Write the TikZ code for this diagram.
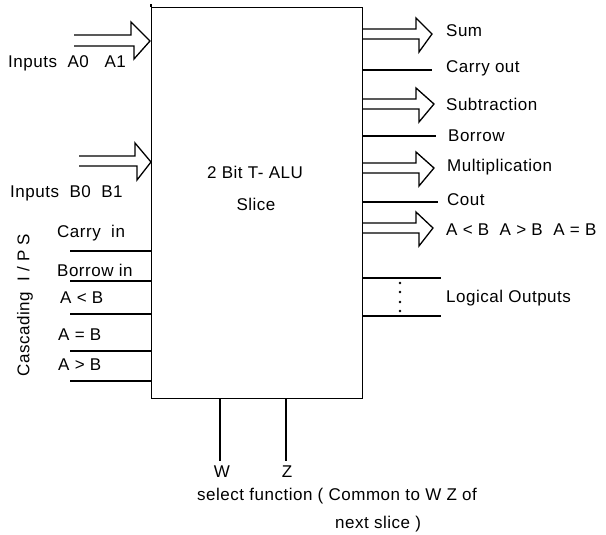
\documentclass[tikz,border=0pt]{standalone}
\usepackage{fontspec}
\setmainfont[LetterSpace=3]{Liberation Sans}
\begin{document}
\begin{tikzpicture}[x=1pt,y=-1pt,
  line/.style={line width=1.3pt},
  lbl/.style={font=\fontsize{17}{19}\selectfont, inner sep=0pt, anchor=west},
  ctr/.style={font=\fontsize{17}{19}\selectfont, inner sep=0pt}]
\useasboundingbox (0,0) rectangle (606,535);
% main block
\node[draw, line width=1.3pt, minimum width=211pt, minimum height=391pt, anchor=north west, inner sep=0pt] (alu) at (151,7) {};
\draw[line] (alu.north west) -- ++(0,-3);
\node[ctr] (t1) at (255,172) {2 Bit T- ALU};
\node[ctr] (t2) at (256,204) {Slice};
% hollow arrow macro
\newcommand{\rarrow}[2]{\draw[line] (362,#1-5) -- (416,#1-5) -- (416,#1-16) -- (#2,#1) -- (419,#1+18) -- (419,#1+5) -- (362,#1+5);}
% left inputs
\draw[line] (74,35) -- (131,35) -- (131,22) -- (150,41) -- (134,59) -- (134,46) -- (74,46);
\node[lbl] (ia) at (8,63) {Inputs\ \ A0\ \ \ A1};
\draw[line] (79,156) -- (135,156) -- (135,143) -- (151,162) -- (137,180) -- (137,166) -- (79,166);
\node[lbl] (ib) at (10,193) {Inputs\ \ B0\ \ B1};
% cascading inputs
\foreach \yy/\nm in {251/c1,281/c2,314/c3,351/c4,381/c5}{
  \coordinate (\nm) at (70,\yy);
  \draw[line] (\nm) -- (alu.west |- \nm);
}
\node[lbl] (lc1) at (57,233) {Carry\ \ in};
\node[lbl] (lc2) at (57,270) {Borrow in};
\node[lbl] (lc3) at (60,298) {A < B};
\node[lbl] (lc4) at (58,335) {A = B};
\node[lbl] (lc5) at (58,365) {A > B};
\node[ctr, rotate=90] (casc) at (25,305) {Cascading\ \ I / P S};
% right outputs
\rarrow{34}{432}
\node[lbl] (o1) at (446,31) {Sum};
\coordinate (e2) at (432,70); \draw[line] (alu.east |- e2) -- (e2);
\node[lbl] (o2) at (446,68) {Carry out};
\rarrow{104}{434}
\node[lbl] (o3) at (446,104) {Subtraction};
\coordinate (e4) at (436,136); \draw[line] (alu.east |- e4) -- (e4);
\node[lbl] (o4) at (448,136) {Borrow};
\rarrow{168}{434}
\node[lbl] (o5) at (447,167) {Multiplication};
\coordinate (e6) at (438,202); \draw[line] (alu.east |- e6) -- (e6);
\node[lbl] (o6) at (447,200) {Cout};
\rarrow{228}{433}
\node[lbl] (o7) at (446,230) {A < B\ \ A > B\ \ A = B};
\coordinate (e8) at (441,278); \draw[line] (alu.east |- e8) -- (e8);
\coordinate (e9) at (441,316); \draw[line] (alu.east |- e9) -- (e9);
\foreach \yy in {283,292,302,311}{\fill (400,\yy) circle (1.4pt);}
\node[lbl] (o8) at (446,298) {Logical Outputs};
% select lines
\coordinate (w) at (220,461); \draw[line] (alu.south -| w) -- (w);
\coordinate (z) at (286,461); \draw[line] (alu.south -| z) -- (z);
\node[ctr] (lw) at (222,472) {W};
\node[ctr] (lz) at (287,472) {Z};
\node[lbl] (sel) at (197,496) {select function ( Common to W Z of};
\node[lbl] (nxt) at (335,524) {next slice )};
\end{tikzpicture}
\end{document}
